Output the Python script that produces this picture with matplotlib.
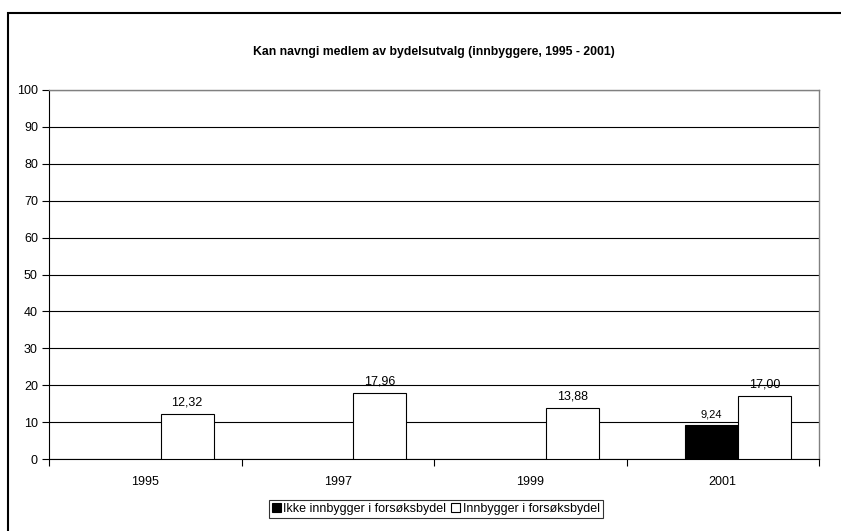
import numpy as np
import matplotlib.pyplot as plt
from matplotlib.patches import Rectangle

plt.rcParams['font.family'] = ['Liberation Sans', 'DejaVu Sans']

years = ['1995', '1997', '1999', '2001']
ikke = [np.nan, np.nan, np.nan, 9.24]
innbygger = [12.32, 17.96, 13.88, 17.00]
labels_ikke = ['', '', '', '9,24']
labels_inn = ['12,32', '17,96', '13,88', '17,00']

fig = plt.figure(figsize=(8.41, 5.31), dpi=100)
# outer chart frame
fig.patches.append(Rectangle((8 / 841, -0.05), 1.2, (531 - 13) / 531 + 0.05,
                             transform=fig.transFigure, fill=False,
                             edgecolor='black', linewidth=1.5))

ax = fig.add_axes([49 / 841, 72 / 531, 770 / 841, 369 / 531])

x = np.arange(len(years))
w = 0.275
shift = 0.08  # pairs sit a little right of the category centre in the original
b1 = ax.bar(x + shift - w / 2, ikke, w, color='black', edgecolor='black', linewidth=0.8,
            label='Ikke innbygger i forsøksbydel', zorder=3)
b2 = ax.bar(x + shift + w / 2, innbygger, w, color='white', edgecolor='black', linewidth=0.8,
            label='Innbygger i forsøksbydel', zorder=3)

for xi, v, t in zip(x, ikke, labels_ikke):
    if t:
        ax.text(xi + shift - w / 2, v + 1.5, t, ha='center', va='bottom', fontsize=8)
for xi, v, t in zip(x, innbygger, labels_inn):
    ax.text(xi + shift + w / 2, v + 1.5, t, ha='center', va='bottom', fontsize=9)

ax.set_xlim(-0.5, 3.5)
ax.set_ylim(0, 100)
ax.set_yticks(np.arange(0, 101, 10))
ax.yaxis.grid(True, color='black', linewidth=0.8, zorder=0)
ax.set_axisbelow(True)

ax.set_xticks(np.arange(-0.5, 4, 1))
ax.set_xticklabels([])
ax.set_xticks(x, minor=True)
ax.set_xticklabels(years, minor=True)
ax.tick_params(axis='x', which='minor', length=0, pad=12, labelsize=9)
ax.tick_params(axis='x', which='major', length=5, width=0.8, direction='out')
ax.tick_params(axis='y', length=5, width=0.8, direction='out', labelsize=9, pad=3)

for s in ['top', 'right']:
    ax.spines[s].set_color('#808080')
    ax.spines[s].set_linewidth(1)
ax.spines['left'].set_linewidth(0.8)
ax.spines['bottom'].set_linewidth(0.8)

fig.text(434 / 841, 1 - 52 / 531, 'Kan navngi medlem av bydelsutvalg (innbyggere, 1995 - 2001)',
         ha='center', va='center', fontsize=8.8, fontweight='bold')

leg = fig.legend(handles=[b1, b2], loc='center', bbox_to_anchor=(436 / 841, 1 - 509 / 531),
                 ncol=2, fontsize=9, frameon=True, fancybox=False, edgecolor='black',
                 handlelength=0.7, handleheight=0.7, handletextpad=0.2, columnspacing=0.4,
                 borderpad=0.25, borderaxespad=0)
leg.get_frame().set_linewidth(0.8)

fig.savefig('out.png', dpi=100)
